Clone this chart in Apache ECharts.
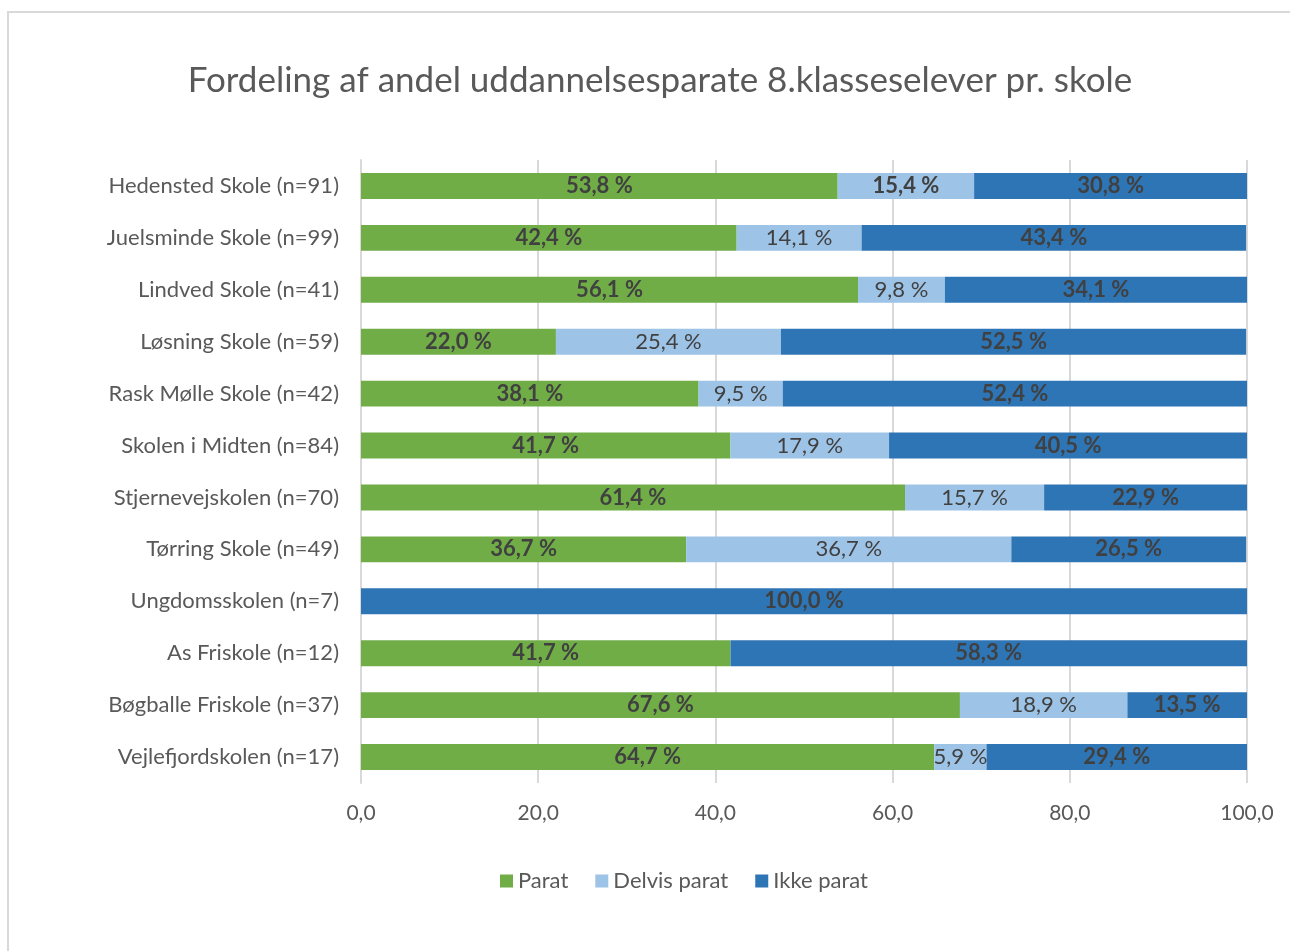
<!DOCTYPE html>
<html>
<head>
<meta charset="utf-8">
<script src="https://cdn.jsdelivr.net/npm/echarts@6/dist/echarts.min.js"></script>
<style>
html,body{margin:0;padding:0;background:#fff;}
#c{position:absolute;left:0;top:0;width:1290px;height:951px;}
#frame{position:absolute;left:7px;top:11px;right:0;bottom:0;border-left:2px solid #d9d9d9;border-top:2px solid #d9d9d9;pointer-events:none;}
</style>
</head>
<body>
<div id="c"></div>
<div id="frame"></div>
<script>
const titleText = 'Fordeling af andel uddannelsesparate 8.klasseselever pr. skole';
const categories = [
  'Hedensted Skole (n=91)',
  'Juelsminde Skole (n=99)',
  'Lindved Skole (n=41)',
  'Løsning Skole (n=59)',
  'Rask Mølle Skole (n=42)',
  'Skolen i Midten (n=84)',
  'Stjernevejskolen (n=70)',
  'Tørring Skole (n=49)',
  'Ungdomsskolen (n=7)',
  'As Friskole (n=12)',
  'Bøgballe Friskole (n=37)',
  'Vejlefjordskolen (n=17)'
];
const seriesNames = ['Parat', 'Delvis parat', 'Ikke parat'];
const parat =       [53.8, 42.4, 56.1, 22.0, 38.1, 41.7, 61.4, 36.7, null, 41.7, 67.6, 64.7];
const delvisParat = [15.4, 14.1,  9.8, 25.4,  9.5, 17.9, 15.7, 36.7, null, null, 18.9,  5.9];
const ikkeParat =   [30.8, 43.4, 34.1, 52.5, 52.4, 40.5, 22.9, 26.5, 100.0, 58.3, 13.5, 29.4];
const xTicks = [0, 20, 40, 60, 80, 100];

const colors = ['#70AD47', '#9DC3E6', '#2E75B6'];
const FONT = 'Lato, "Open Sans", sans-serif';
const fmtPct = v => (v == null ? '' : v.toFixed(1).replace('.', ',') + ' %');

const chart = echarts.init(document.getElementById('c'), null, {renderer: 'canvas'});

function labelCfg(bold) {
  return {
    show: true,
    position: 'inside',
    color: '#404040',
    fontFamily: FONT,
    fontSize: 22,
    fontWeight: bold ? 'bold' : 'normal',
    formatter: p => fmtPct(p.value)
  };
}

const delvisData = delvisParat.map((v, i) => i === 0 ? {value: v, label: {fontWeight: 'bold'}} : v);

chart.setOption({
  animation: false,
  backgroundColor: 'transparent',
  title: {
    text: titleText,
    left: 655,
    textAlign: 'center',
    top: 58,
    textStyle: {color: '#595959', fontFamily: FONT, fontSize: 35, fontWeight: 'normal'}
  },
  legend: {
    data: seriesNames,
    left: 495,
    top: 865,
    itemWidth: 13,
    itemHeight: 13,
    itemGap: 27,
    icon: 'rect',
    textStyle: {color: '#595959', fontFamily: FONT, fontSize: 22}
  },
  grid: {left: 361, right: 43, top: 160, bottom: 168, containLabel: false},
  xAxis: {
    type: 'value',
    min: 0,
    max: 100,
    interval: 20,
    axisLine: {show: false},
    axisTick: {show: false},
    splitLine: {show: true, lineStyle: {color: '#d9d9d9', width: 2}},
    axisLabel: {
      color: '#595959',
      fontFamily: FONT,
      fontSize: 21,
      margin: 20,
      formatter: v => xTicks.includes(v) ? v.toFixed(1).replace('.', ',') : ''
    }
  },
  yAxis: {
    type: 'category',
    data: categories,
    inverse: true,
    axisLine: {show: true, lineStyle: {color: '#d9d9d9', width: 2}},
    axisTick: {show: false},
    axisLabel: {color: '#595959', fontFamily: FONT, fontSize: 22, margin: 22}
  },
  series: [
    {name: seriesNames[0], type: 'bar', stack: 'a', data: parat, barCategoryGap: '50%',
     itemStyle: {color: colors[0]}, label: labelCfg(true)},
    {name: seriesNames[1], type: 'bar', stack: 'a', data: delvisData,
     itemStyle: {color: colors[1]}, label: labelCfg(false)},
    {name: seriesNames[2], type: 'bar', stack: 'a', data: ikkeParat,
     itemStyle: {color: colors[2]}, label: labelCfg(true)}
  ]
});
</script>
</body>
</html>
